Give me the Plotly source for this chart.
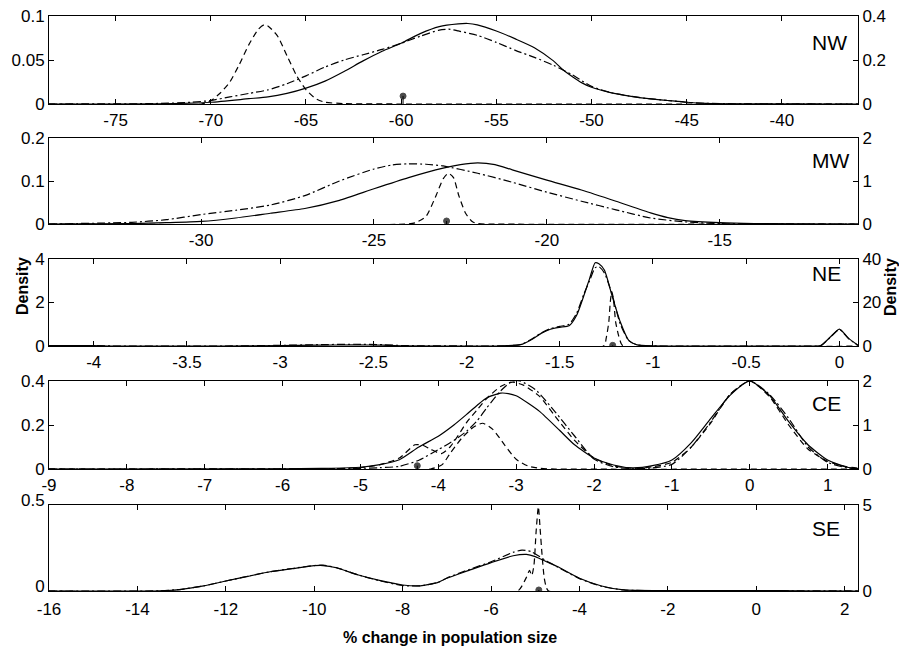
import plotly.graph_objects as go

# ---------------- DATA ----------------
# NW panel (left axis 0-0.1, right axis 0-0.4)
nw_solid_x = [-78.5, -72, -70, -68, -67, -66, -65, -64, -63, -62, -61, -60, -59, -58, -57, -56.5, -56, -55, -54, -53, -52, -51.5, -51, -50.5, -50, -49, -48, -47, -46, -45, -44, -42, -36]
nw_solid_y = [0, 0.0005, 0.002, 0.006, 0.008, 0.012, 0.018, 0.026, 0.037, 0.049, 0.06, 0.069, 0.08, 0.088, 0.091, 0.0915, 0.09, 0.083, 0.074, 0.064, 0.049, 0.039, 0.031, 0.024, 0.019, 0.013, 0.009, 0.006, 0.004, 0.002, 0.0008, 0.0002, 0]
nw_dashdot_x = [-78.5, -73, -71, -70, -69, -68, -67, -66, -65, -64, -63, -62, -61, -60, -59, -58, -57.5, -57, -56, -55, -54, -53, -52, -51, -50, -49, -48, -47, -46, -45, -44, -42, -36]
nw_dashdot_y = [0, 0.0005, 0.002, 0.004, 0.008, 0.012, 0.016, 0.023, 0.032, 0.042, 0.05, 0.056, 0.062, 0.069, 0.077, 0.084, 0.085, 0.083, 0.078, 0.07, 0.061, 0.053, 0.044, 0.033, 0.02, 0.013, 0.009, 0.006, 0.004, 0.002, 0.0008, 0.0002, 0]
nw_dashed_x = [-78.5, -70.5, -70, -69.5, -69, -68.5, -68, -67.5, -67.2, -67, -66.5, -66, -65.5, -65, -64.5, -64, -63, -60, -36]
nw_dashed_y = [0, 0, 0.015, 0.05, 0.1, 0.18, 0.27, 0.34, 0.36, 0.355, 0.31, 0.22, 0.13, 0.065, 0.025, 0.008, 0.002, 0, 0]
nw_dot = [-59.9, 0.009]

# MW panel (left 0-0.2, right 0-2)
mw_solid_x = [-34.4, -32, -31, -30, -29, -28, -27, -26, -25, -24, -23, -22.5, -22, -21.5, -21, -20, -19, -18, -17, -16.5, -16, -15, -14, -11]
mw_solid_y = [0, 0.001, 0.003, 0.006, 0.014, 0.025, 0.036, 0.055, 0.082, 0.108, 0.13, 0.138, 0.142, 0.138, 0.126, 0.102, 0.079, 0.053, 0.026, 0.015, 0.008, 0.003, 0.001, 0]
mw_dashdot_x = [-34.4, -32, -31, -30, -29, -28, -27, -26, -25, -24.5, -24, -23.5, -23, -22, -21, -20, -19, -18, -17, -16, -15, -11]
mw_dashdot_y = [0, 0.004, 0.01, 0.022, 0.032, 0.044, 0.066, 0.1, 0.128, 0.137, 0.14, 0.139, 0.135, 0.118, 0.097, 0.074, 0.053, 0.033, 0.014, 0.005, 0.001, 0]
mw_dashed_x = [-34.4, -24, -23.8, -23.5, -23.2, -23.0, -22.85, -22.7, -22.55, -22.35, -22.15, -22, -21.8, -11]
mw_dashed_y = [0, 0, 0.03, 0.17, 0.67, 1.05, 1.18, 1.08, 0.67, 0.25, 0.05, 0.01, 0, 0]
mw_dot = [-22.9, 0.007]

# NE panel (left 0-4, right 0-40)
ne_solid_x = [-4.24, -4.0, -3.9, -3.3, -3.0, -2.8, -2.6, -2.45, -2.35, -1.9, -1.8, -1.71, -1.65, -1.6, -1.55, -1.5, -1.45, -1.41, -1.37, -1.34, -1.31, -1.29, -1.26, -1.22, -1.175, -1.13, -1.085, -1.0, -0.9, -0.15, -0.1, -0.05, 0.0, 0.05, 0.1]
ne_solid_y = [0.02, 0.02, 0, 0, 0.02, 0.04, 0.05, 0.04, 0.01, 0, 0.01, 0.06, 0.3, 0.58, 0.77, 0.86, 0.93, 1.4, 2.33, 3.1, 3.83, 3.78, 3.48, 2.33, 1.1, 0.26, 0.05, 0.005, 0, 0, 0.02, 0.4, 0.78, 0.35, 0.03]
ne_dashdot_x = [-4.24, -4.0, -3.9, -3.3, -3.0, -2.8, -2.6, -2.45, -2.35, -1.9, -1.8, -1.71, -1.65, -1.6, -1.55, -1.5, -1.45, -1.41, -1.37, -1.34, -1.31, -1.29, -1.26, -1.22, -1.175, -1.13, -1.085, -1.0, -0.9, -0.15, -0.1, -0.05, 0.0, 0.05, 0.1]
ne_dashdot_y = [0.02, 0.02, 0, 0, 0.03, 0.06, 0.08, 0.06, 0.02, 0, 0.01, 0.07, 0.32, 0.6, 0.8, 0.9, 1.0, 1.5, 2.4, 3.0, 3.6, 3.65, 3.35, 2.4, 1.0, 0.25, 0.05, 0.005, 0, 0, 0.02, 0.38, 0.76, 0.33, 0.03]
ne_dashed_x = [-4.24, -1.265, -1.25, -1.237, -1.228, -1.22, -1.21, -1.2, -1.185, -1.17, -1.16, 0.1]
ne_dashed_y = [0, 0, 4, 11, 21, 25, 20, 11, 5, 1, 0, 0]
ne_dot = [-1.216, 0.03]

# CE panel (left 0-0.4, right 0-2)
ce_solid_x = [-9, -6, -5.5, -5.0, -4.75, -4.5, -4.25, -4.0, -3.8, -3.64, -3.5, -3.38, -3.2, -3.1, -3.0, -2.85, -2.7, -2.44, -2.25, -2.0, -1.75, -1.5, -1.25, -1.0, -0.75, -0.5, -0.25, 0.0, 0.25, 0.5, 0.75, 1.0, 1.25, 1.39]
ce_solid_y = [0, 0.001, 0.003, 0.008, 0.02, 0.042, 0.1, 0.149, 0.2, 0.247, 0.29, 0.323, 0.345, 0.343, 0.333, 0.3, 0.262, 0.175, 0.11, 0.05, 0.018, 0.005, 0.015, 0.041, 0.12, 0.23, 0.336, 0.4, 0.336, 0.215, 0.109, 0.041, 0.008, 0.002]
ce_dashdot_x = [-9, -5.5, -5.0, -4.75, -4.5, -4.25, -4.0, -3.8, -3.64, -3.5, -3.38, -3.2, -3.05, -2.95, -2.75, -2.5, -2.25, -2.0, -1.75, -1.5, -1.25, -1.0, -0.75, -0.5, -0.25, 0.0, 0.25, 0.5, 0.75, 1.0, 1.25, 1.39]
ce_dashdot_y = [0, 0.001, 0.003, 0.006, 0.012, 0.04, 0.088, 0.13, 0.171, 0.22, 0.277, 0.355, 0.4, 0.4, 0.36, 0.26, 0.15, 0.045, 0.01, 0.002, 0.005, 0.021, 0.1, 0.215, 0.34, 0.4, 0.34, 0.23, 0.1, 0.03, 0.005, 0.001]
ce_dashed_x = [-9, -5.5, -5.0, -4.75, -4.5, -4.3, -4.2, -4.1, -3.96, -3.85, -3.75, -3.64, -3.5, -3.38, -3.2, -3.05, -2.9, -2.7, -2.5, -2.25, -2.0, -1.75, -1.5, -1.25, -1.0, -0.75, -0.5, -0.25, 0.0, 0.25, 0.5, 0.75, 1.0, 1.25, 1.39]
ce_dashed_y = [0, 0.001, 0.006, 0.02, 0.05, 0.11, 0.108, 0.09, 0.07, 0.1, 0.15, 0.21, 0.27, 0.32, 0.375, 0.395, 0.38, 0.33, 0.24, 0.13, 0.05, 0.015, 0.003, 0.01, 0.03, 0.1, 0.21, 0.34, 0.4, 0.33, 0.2, 0.09, 0.035, 0.01, 0.004]
ce_narrow_x = [-9, -4.1, -3.95, -3.85, -3.7, -3.55, -3.43, -3.3, -3.15, -3.0, -2.85, -2.7, -2.5, 1.39]
ce_narrow_y = [0, 0, 0.1, 0.35, 0.7, 0.95, 1.04, 0.9, 0.55, 0.22, 0.07, 0.015, 0, 0]
ce_dot = [-4.27, 0.015]

# SE panel (left 0-0.5, right 0-5)
se_solid_x = [-16, -13.5, -13, -12.5, -12, -11.5, -11, -10.5, -10, -9.8, -9.5, -9, -8.5, -8, -7.6, -7.2, -7, -6.5, -6, -5.5, -5.2, -5, -4.75, -4.5, -4, -3.5, -3, -2, 0, 1, 2.3]
se_solid_y = [0, 0.001, 0.01, 0.03, 0.058, 0.085, 0.112, 0.13, 0.147, 0.148, 0.135, 0.093, 0.06, 0.035, 0.03, 0.05, 0.074, 0.12, 0.165, 0.205, 0.213, 0.2, 0.17, 0.142, 0.074, 0.029, 0.006, 0.002, 0.003, 0.001, 0]
se_dashdot_x = [-16, -13.5, -13, -12.5, -12, -11.5, -11, -10.5, -10, -9.8, -9.5, -9, -8.5, -8, -7.6, -7.2, -7, -6.5, -6, -5.5, -5.3, -5.1, -4.75, -4.5, -4, -3.5, -3, -2, 0, 1, 2.3]
se_dashdot_y = [0, 0.001, 0.01, 0.03, 0.058, 0.086, 0.112, 0.131, 0.148, 0.15, 0.136, 0.093, 0.058, 0.032, 0.03, 0.05, 0.076, 0.125, 0.17, 0.225, 0.238, 0.23, 0.175, 0.14, 0.072, 0.027, 0.006, 0.002, 0.003, 0.001, 0]
se_dashed_x = [-16, -5.4, -5.3, -5.2, -5.13, -5.08, -5.03, -4.98, -4.93, -4.89, -4.85, -4.8, -4.75, -4.7, 2.3]
se_dashed_y = [0, 0, 0.3, 0.8, 1.2, 0.9, 1.5, 3.5, 4.9, 3.6, 2.2, 0.8, 0.2, 0, 0]
se_dot = [-4.92, 0.006]

panel_names = ["NW", "MW", "NE", "CE", "SE"]
x_ranges = [[-78.5, -36], [-34.4, -11], [-4.24, 0.1], [-9, 1.39], [-16, 2.3]]
x_ticks = [[-75, -70, -65, -60, -55, -50, -45, -40],
           [-30, -25, -20, -15],
           [-4, -3.5, -3, -2.5, -2, -1.5, -1, -0.5, 0],
           [-9, -8, -7, -6, -5, -4, -3, -2, -1, 0, 1],
           [-16, -14, -12, -10, -8, -6, -4, -2, 0, 2]]
left_ticks = [[0, 0.05, 0.1], [0, 0.1, 0.2], [0, 2, 4], [0, 0.2, 0.4], [0, 0.5]]
left_text = [["0", "0.05", "0.1"], ["0", "0.1", "0.2"], ["0", "2", "4"], ["0", "0.2", "0.4"], ["0", "0.5"]]
right_ticks = [[0, 0.2, 0.4], [0, 1, 2], [0, 20, 40], [0, 1, 2], [0, 5]]
right_text = [["0", "0.2", "0.4"], ["0", "1", "2"], ["0", "20", "40"], ["0", "1", "2"], ["0", "5"]]

# ---------------- FIGURE ----------------
# page offset from the browser's default 8px body margin
OFF = 8
W, H = 907 - OFF, 654 - OFF
PL, PR, PT, PB = 49, 858, 16, 591          # plot area in page pixels
ML, MT = PL - OFF, PT - OFF
MR = W - (PR - OFF)
MB = H - (PB - OFF)
plot_w = PR - PL
plot_h = PB - PT
panel_px = [(16, 104), (138, 224), (259, 346), (381, 469), (505, 591)]

def yfrac(px):
    return (PB - px) / plot_h

def xfrac(px):
    return (px - PL) / plot_w

fig = go.Figure()
FONT = "Liberation Sans, Arial, Helvetica, sans-serif"
LW = 1.2
DASH = "6px,4px"
DASHDOT = "8px,3px,2px,3px"

panels = [
    dict(lines=[(nw_solid_x, nw_solid_y, "solid", False), (nw_dashdot_x, nw_dashdot_y, DASHDOT, False), (nw_dashed_x, nw_dashed_y, DASH, True)], dot=nw_dot),
    dict(lines=[(mw_solid_x, mw_solid_y, "solid", False), (mw_dashdot_x, mw_dashdot_y, DASHDOT, False), (mw_dashed_x, mw_dashed_y, DASH, True)], dot=mw_dot),
    dict(lines=[(ne_solid_x, ne_solid_y, "solid", False), (ne_dashdot_x, ne_dashdot_y, DASHDOT, False), (ne_dashed_x, ne_dashed_y, DASH, True)], dot=ne_dot),
    dict(lines=[(ce_solid_x, ce_solid_y, "solid", False), (ce_dashdot_x, ce_dashdot_y, DASHDOT, False), (ce_dashed_x, ce_dashed_y, DASH, False), (ce_narrow_x, ce_narrow_y, DASH, True)], dot=ce_dot),
    dict(lines=[(se_solid_x, se_solid_y, "solid", False), (se_dashdot_x, se_dashdot_y, DASHDOT, False), (se_dashed_x, se_dashed_y, DASH, True)], dot=se_dot),
]

layout = {}
annotations = []
for i, p in enumerate(panels):
    n = i + 1
    xa = "x" if n == 1 else f"x{n}"
    ya_l = "y" if n == 1 else f"y{n}"
    ya_r = f"y{n + 5}"
    for (xs, ys, dash, right) in p["lines"]:
        fig.add_trace(go.Scatter(x=xs, y=ys, mode="lines", xaxis=xa, yaxis=ya_r if right else ya_l,
                                 line=dict(color="black", width=LW, dash=dash, shape="spline", smoothing=0.6),
                                 showlegend=False, hoverinfo="skip"))
    dx, dy = p["dot"]
    fig.add_trace(go.Scatter(x=[dx, dx], y=[0, dy], mode="lines+markers", xaxis=xa, yaxis=ya_l,
                             line=dict(color="black", width=1),
                             marker=dict(color="black", size=[0, 6], line=dict(color="black", width=1)),
                             showlegend=False, hoverinfo="skip"))
    top, bot = panel_px[i]
    dom = [yfrac(bot), yfrac(top)]
    last = (n == 5)
    common_ax = dict(showline=True, linecolor="black", linewidth=1, ticks="inside", ticklen=5,
                     tickcolor="black", showgrid=False, zeroline=False, ticklabeloverflow="allow",
                     tickfont=dict(family=FONT, size=17, color="black"))
    layout[f"xaxis{n}"] = dict(common_ax, domain=[0, 1], anchor=ya_l, range=x_ranges[i],
                               tickvals=x_ticks[i], ticktext=[f"{v:g}" for v in x_ticks[i]], mirror="ticks",
                               ticklabelstandoff=3 if last else 1)
    layout[f"yaxis{n}"] = dict(common_ax, domain=dom, anchor=xa, range=[0, left_ticks[i][-1]],
                               tickvals=left_ticks[i], ticktext=left_text[i], side="left",
                               ticklabelshift=-5 if last else 0)
    layout[f"yaxis{n + 5}"] = dict(common_ax, domain=dom, anchor=xa, overlaying=ya_l, side="right",
                                   range=[0, right_ticks[i][-1]], tickvals=right_ticks[i], ticktext=right_text[i])
    label_y = [42, 160, 273, 403, 528][i]
    annotations.append(dict(text=panel_names[i], x=xfrac(810), y=yfrac(label_y),
                            xref="paper", yref="paper", xanchor="left", yanchor="middle", showarrow=False,
                            font=dict(family=FONT, size=21, color="black")))

annotations.append(dict(text="<b>Density</b>", textangle=-90, x=xfrac(22), y=yfrac(286),
                        xref="paper", yref="paper", xanchor="center", yanchor="middle", showarrow=False,
                        font=dict(family=FONT, size=16, color="black")))
annotations.append(dict(text="<b>Density</b>", textangle=-90, x=xfrac(890), y=yfrac(287),
                        xref="paper", yref="paper", xanchor="center", yanchor="middle", showarrow=False,
                        font=dict(family=FONT, size=16, color="black")))
annotations.append(dict(text="<b>% change in population size</b>", x=xfrac(450), y=yfrac(637),
                        xref="paper", yref="paper", xanchor="center", yanchor="middle", showarrow=False,
                        font=dict(family=FONT, size=16, color="black")))

fig.update_layout(width=W, height=H, margin=dict(l=ML, r=MR, t=MT, b=MB, autoexpand=False),
                  paper_bgcolor="white", plot_bgcolor="white", showlegend=False,
                  annotations=annotations, **layout)
fig.write_html("out.html")
